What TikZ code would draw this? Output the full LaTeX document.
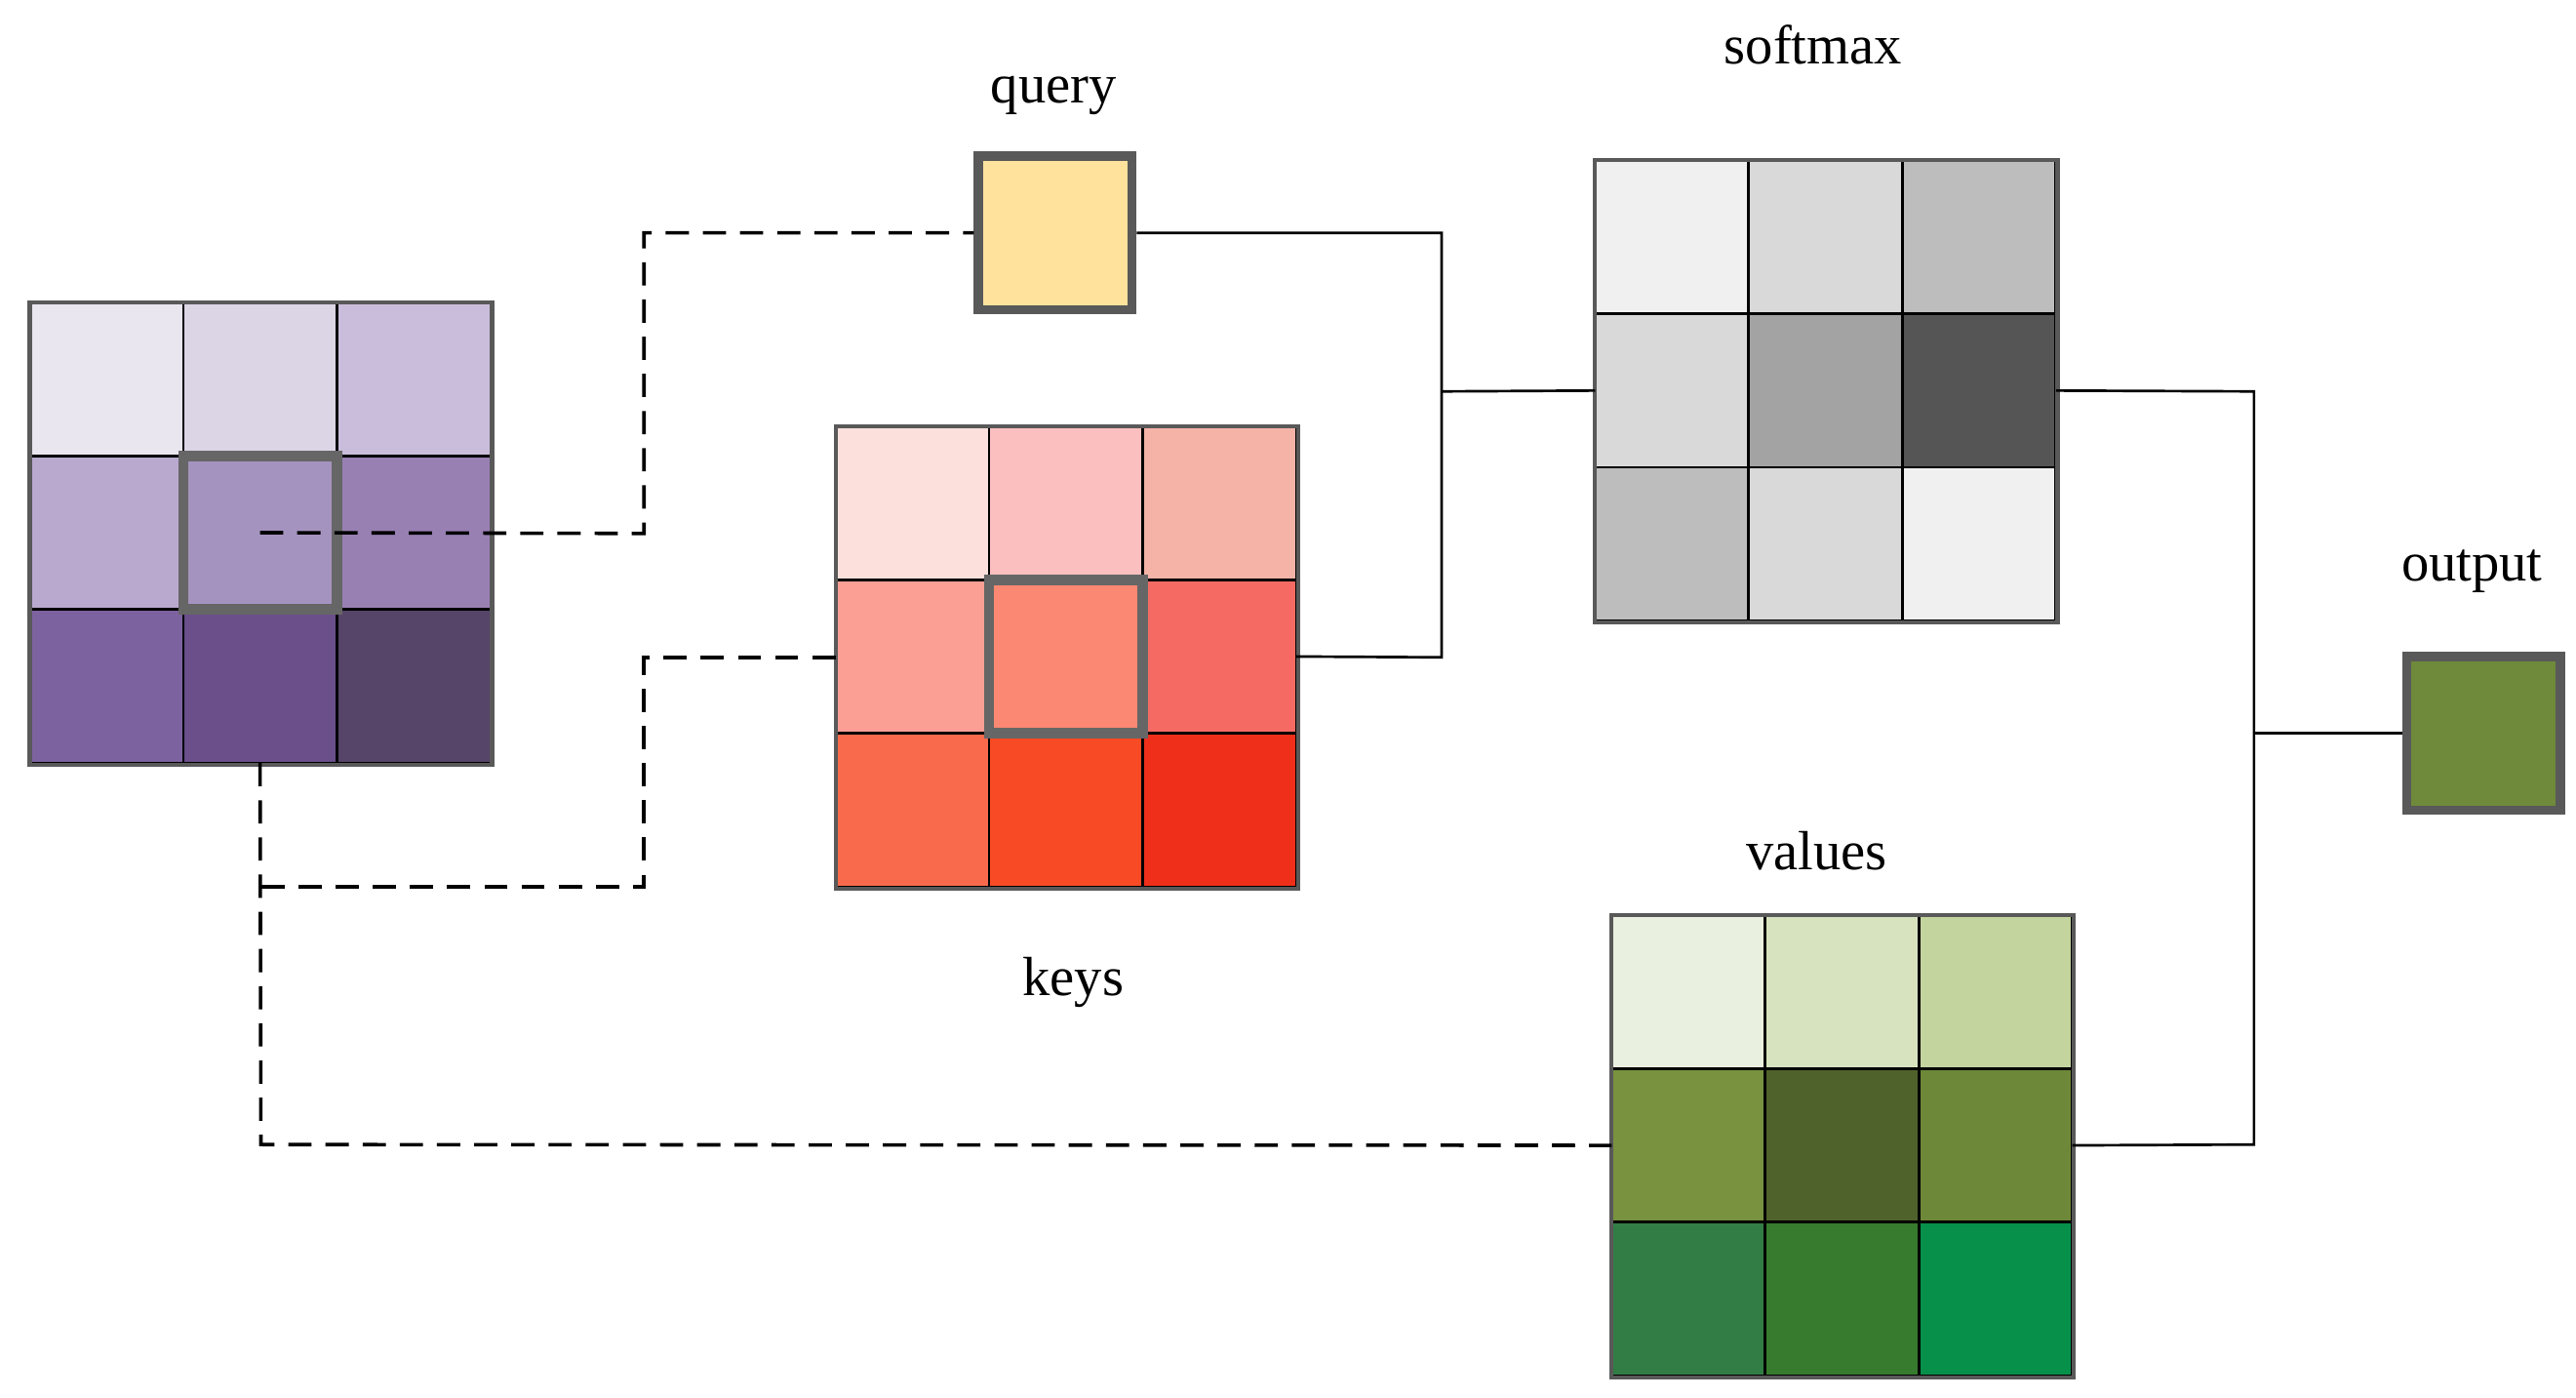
\documentclass[tikz,border=0pt]{standalone}
\usepackage{fontspec}
\setmainfont{Liberation Serif}
\begin{document}
\begin{tikzpicture}[x=0.01cm,y=-0.01cm,
 cell/.style={draw=black,line width=0.45pt,minimum size=0.93cm,inner sep=0,outer sep=0},
 frame/.style={draw=black!65,line width=0.7pt},
 hl/.style={draw=black!60,line width=1.8pt,minimum size=0.93cm,inner sep=0},
 box/.style={draw=black!65,line width=1.6pt,minimum size=0.93cm,inner sep=0},
 dsh/.style={line width=0.6pt,dash pattern=on 4pt off 2.4pt},
 sol/.style={line width=0.45pt},
 lab/.style={font=\fontsize{9.5}{11}\selectfont}]
\useasboundingbox (0,0) rectangle (1560,846);
% grid macro
\newcommand{\mygrid}[4]{% name, x0, y0, colors
 \foreach \c [count=\i from 0] in {#4}{
  \pgfmathtruncatemacro{\r}{int(\i/3)}
  \pgfmathtruncatemacro{\k}{mod(\i,3)}
  \node[cell,fill=\c] (#1-\r\k) at ({#2+46.5+93*\k},{#3+46.5+93*\r}) {};}
 \draw[frame] (#2,#3) rectangle ++(280,280);}
\definecolor{p1}{HTML}{E9E6EF}\definecolor{p2}{HTML}{DCD5E6}\definecolor{p3}{HTML}{CABDDB}
\definecolor{p4}{HTML}{B9A9CE}\definecolor{p5}{HTML}{A593BF}\definecolor{p6}{HTML}{9880B3}
\definecolor{p7}{HTML}{7D62A0}\definecolor{p8}{HTML}{6A4F8A}\definecolor{p9}{HTML}{564469}
\definecolor{k1}{HTML}{FCE0DC}\definecolor{k2}{HTML}{FCBFBF}\definecolor{k3}{HTML}{F5B3A8}
\definecolor{k4}{HTML}{FB9F95}\definecolor{k5}{HTML}{FB8872}\definecolor{k6}{HTML}{F56B64}
\definecolor{k7}{HTML}{F96A4C}\definecolor{k8}{HTML}{F84B25}\definecolor{k9}{HTML}{EF2F1A}
\definecolor{s1}{HTML}{F0F0F0}\definecolor{s2}{HTML}{D9D9D9}\definecolor{s3}{HTML}{BDBDBD}
\definecolor{s5}{HTML}{A3A3A3}\definecolor{s6}{HTML}{555555}
\definecolor{v1}{HTML}{EAF0DF}\definecolor{v2}{HTML}{D7E3BF}\definecolor{v3}{HTML}{C4D49E}
\definecolor{v4}{HTML}{78923F}\definecolor{v5}{HTML}{4F622B}\definecolor{v6}{HTML}{6E883A}
\definecolor{v7}{HTML}{327D45}\definecolor{v8}{HTML}{367B2E}\definecolor{v9}{HTML}{07904A}
\definecolor{qc}{HTML}{FFE39C}\definecolor{oc}{HTML}{6E8A3A}
\mygrid{P}{18}{183}{p1,p2,p3,p4,p5,p6,p7,p8,p9}
\mygrid{K}{506}{258}{k1,k2,k3,k4,k5,k6,k7,k8,k9}
\mygrid{S}{966}{97}{s1,s2,s3,s2,s5,s6,s3,s2,s1}
\mygrid{V}{976}{554}{v1,v2,v3,v4,v5,v6,v7,v8,v9}
\node[hl] (ph) at (P-11) {};
\node[hl] (kh) at (K-11) {};
\node[box,fill=qc] (q) at (639,141) {};
\node[box,fill=oc] (o) at (1504,444) {};
\node[lab] (lq) at (638,58) {query};
\node[lab] (lk) at (650,595) {keys};
\node[lab] (ls) at (1098,27) {softmax};
\node[lab] (lv) at (1100,515) {values};
\node[lab] (lo) at (1497,346) {output};
% dashed
\coordinate (a1) at (390,323); \coordinate (a2) at (390,141);
\draw[dsh] (P-11.center) -- (a1) -- (a2) -- (q.west);
\coordinate (b1) at (390,398); \coordinate (b2) at (390,537); \coordinate (b3) at (158,537);
\draw[dsh] (K-10.west |- b1) -- (b1) -- (b2) -- (b3);
\coordinate (c1) at (158,693);
\draw[dsh] (P-21.south) -- (c1) -- (V-10.west);
% solid
\coordinate (d1) at (873,141); \coordinate (d2) at (873,398); \coordinate (d3) at (873,237);
\draw[sol] (q.east) -- (d1) -- (d2) -- (K-12.east);
\draw[sol] (d3) -- (S-10.west);
\coordinate (e1) at (1365,237); \coordinate (e2) at (1365,693); \coordinate (e3) at (1365,444);
\draw[sol] (S-12.east) -- (e1) -- (e2) -- (V-12.east);
\draw[sol] (e3) -- (o.west);
\end{tikzpicture}
\end{document}
